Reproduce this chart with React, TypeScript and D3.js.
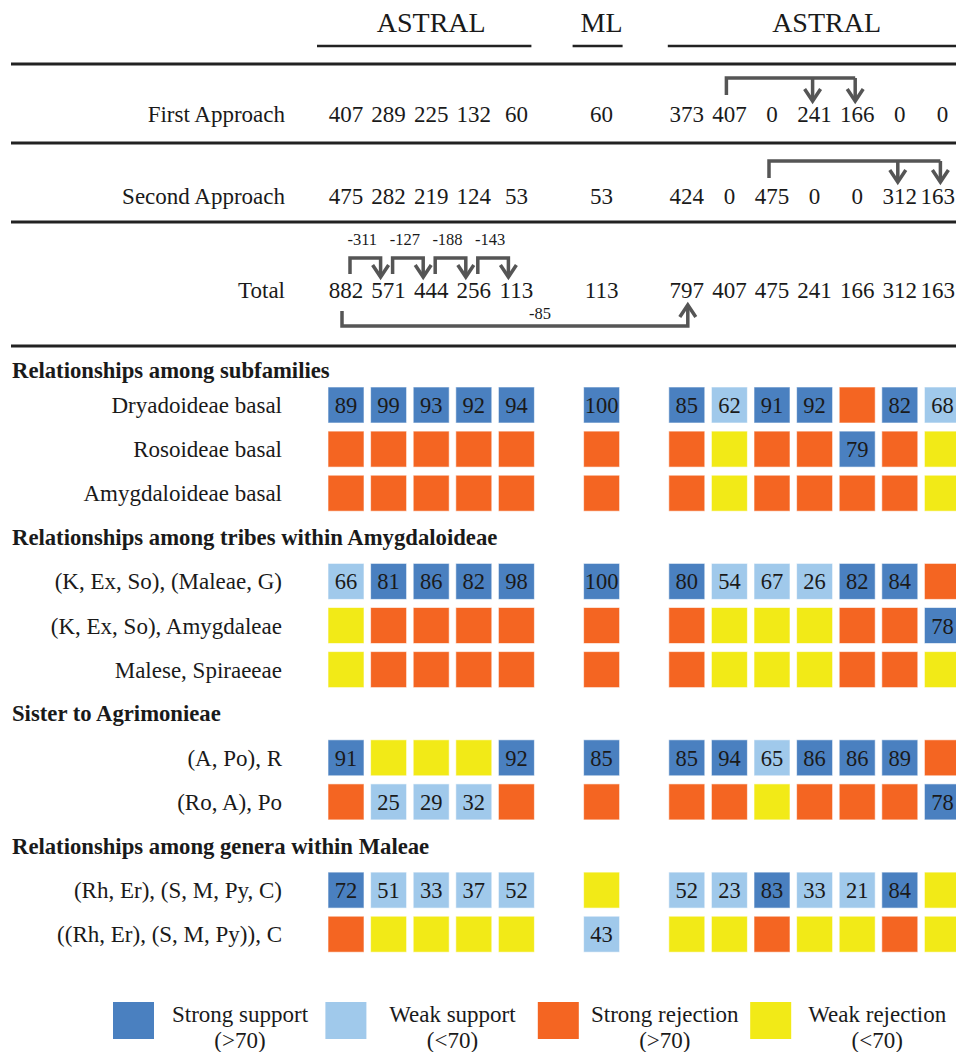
import React from "react";
import * as d3 from "d3";

// column layout: 5 ASTRAL, 1 ML, 7 ASTRAL (slot positions leave gaps between groups)
const colSlots = [0, 1, 2, 3, 4, 6, 8, 9, 10, 11, 12, 13, 14];
const groupLabels = [
  { label: "ASTRAL", from: 0, to: 4 },
  { label: "ML", from: 5, to: 5 },
  { label: "ASTRAL", from: 6, to: 12 },
];

const approachLabels = ["First Approach", "Second Approach", "Total"];
const firstApproach = [407, 289, 225, 132, 60, 60, 373, 407, 0, 241, 166, 0, 0];
const secondApproach = [475, 282, 219, 124, 53, 53, 424, 0, 475, 0, 0, 312, 163];
const totalGenes = [882, 571, 444, 256, 113, 113, 797, 407, 475, 241, 166, 312, 163];
const totalDiffs = [-311, -127, -188, -143];
const firstSplit = { from: 7, to: [9, 10] };
const secondSplit = { from: 8, to: [11, 12] };
const mlDiff = { from: 0, to: 6, value: -85 };

const sectionTitles = [
  "Relationships among subfamilies",
  "Relationships among tribes within Amygdaloideae",
  "Sister to Agrimonieae",
  "Relationships among genera within Maleae",
];
const rowLabels = [
  "Dryadoideae basal",
  "Rosoideae basal",
  "Amygdaloideae basal",
  "(K, Ex, So), (Maleae, G)",
  "(K, Ex, So), Amygdaleae",
  "Malese, Spiraeeae",
  "(A, Po), R",
  "(Ro, A), Po",
  "(Rh, Er), (S, M, Py, C)",
  "((Rh, Er), (S, M, Py)), C",
];
const rowSection = [0, 0, 0, 1, 1, 1, 2, 2, 3, 3];
// numbers = support value, "R" = strong rejection, "r" = weak rejection
const cellValues: (number | string)[][] = [
  [89, 99, 93, 92, 94, 100, 85, 62, 91, 92, "R", 82, 68],
  ["R", "R", "R", "R", "R", "R", "R", "r", "R", "R", 79, "R", "r"],
  ["R", "R", "R", "R", "R", "R", "R", "r", "R", "R", "R", "R", "r"],
  [66, 81, 86, 82, 98, 100, 80, 54, 67, 26, 82, 84, "R"],
  ["r", "R", "R", "R", "R", "R", "R", "r", "r", "r", "R", "R", 78],
  ["r", "R", "R", "R", "R", "R", "R", "r", "r", "r", "R", "R", "r"],
  [91, "r", "r", "r", 92, 85, 85, 94, 65, 86, 86, 89, "R"],
  ["R", 25, 29, 32, "R", "R", "R", "R", "r", "R", "R", "R", 78],
  [72, 51, 33, 37, 52, "r", 52, 23, 83, 33, 21, 84, "r"],
  ["R", "r", "r", "r", "r", 43, "r", "r", "R", "r", "r", "R", "r"],
];

const legendKeys = ["strongSupport", "weakSupport", "strongReject", "weakReject"];
const legendLabels = ["Strong support", "Weak support", "Strong rejection", "Weak rejection"];
const legendSub = ["(>70)", "(<70)", "(>70)", "(<70)"];

const colors = d3
  .scaleOrdinal<string, string>()
  .domain(legendKeys)
  .range(["#4a80c0", "#a0c9eb", "#f46522", "#f2ea17"]);

const cellKey = (v: number | string) =>
  v === "R" ? "strongReject" : v === "r" ? "weakReject" : +v > 70 ? "strongSupport" : "weakSupport";

const W = 956;
const H = 1052;
const FONT = "'Liberation Serif', 'Times New Roman', serif";
const INK = "#555";
const NUM_FS = 23;

export default function App() {
  const x = d3.scaleLinear().domain([0, 14]).range([346, 942.4]);
  const cx = (i: number) => x(colSlots[i]);
  const y = d3.scaleLinear().domain([0, 14]).range([405, 405 + 14 * 44.1]);
  const cell = 36;

  // keep numbers inside the right edge
  const numX = (i: number, v: number) => {
    const half = (String(v).length * 0.5 * NUM_FS) / 2;
    return Math.min(cx(i), W - 1 - half);
  };

  // assign vertical slots to section headers and rows
  const headerY: number[] = [];
  const rowY: number[] = [];
  let slot = 0;
  sectionTitles.forEach((_, s) => {
    if (s === 0) headerY.push(370);
    else headerY.push(y(slot++));
    rowSection.forEach((rs, r) => {
      if (rs === s) rowY[r] = y(slot++);
    });
  });

  const approachY = [114, 196, 290];
  const approachRows = [firstApproach, secondApproach, totalGenes];

  const arrowHead = (ax: number, tip: number, dir: 1 | -1) =>
    `M${ax - 8},${tip - dir * 12}L${ax},${tip}L${ax + 8},${tip - dir * 12}`;

  const split = (s: { from: number; to: number[] }, top: number, startBottom: number, tip: number) => {
    const sx = cx(s.from) - 3;
    const ends = s.to.map((t) => cx(t) - 2);
    const path = d3.path();
    path.moveTo(sx, startBottom);
    path.lineTo(sx, top);
    path.lineTo(d3.max(ends)!, top);
    ends.forEach((e) => {
      path.moveTo(e, top);
      path.lineTo(e, tip);
    });
    return (
      <g>
        <path d={path.toString()} fill="none" stroke={INK} strokeWidth={3.5} />
        {ends.map((e, i) => (
          <path key={i} d={arrowHead(e, tip, 1)} fill="none" stroke={INK} strokeWidth={3.5} />
        ))}
      </g>
    );
  };

  const mlLeft = cx(mlDiff.from) - 4;
  const mlRight = cx(mlDiff.to) + 1;

  return (
    <svg
      width={W}
      height={H}
      style={{ position: "absolute", left: 0, top: 0, background: "#fff" }}
      fontFamily={FONT}
      fill="#1a1a1a"
    >
      {/* group headers */}
      {groupLabels.map((g, i) => {
        const left = i === 2 ? cx(g.from) - 19 : cx(g.from) - 29;
        const right = i === 2 ? W : cx(g.to) + (i === 1 ? 21 : 15);
        const mid = i === 2 ? (cx(g.from) + cx(g.to)) / 2 + 12 : (cx(g.from) + cx(g.to)) / 2;
        return (
          <g key={i}>
            <text x={mid} y={32} textAnchor="middle" fontSize={28}>
              {g.label}
            </text>
            <line x1={left} x2={right} y1={46} y2={46} stroke="#222" strokeWidth={2.5} />
          </g>
        );
      })}

      {/* rules */}
      {[64, 143, 222, 346].map((ry) => (
        <line key={ry} x1={11} x2={W} y1={ry} y2={ry} stroke="#222" strokeWidth={3} />
      ))}

      {/* gene counts */}
      {approachRows.map((vals, r) => (
        <g key={r}>
          <text x={285} y={approachY[r] + 7.5} textAnchor="end" fontSize={23}>
            {approachLabels[r]}
          </text>
          {vals.map((v, i) => (
            <text key={i} x={numX(i, v)} y={approachY[r] + 8} textAnchor="middle" fontSize={NUM_FS}>
              {v}
            </text>
          ))}
        </g>
      ))}

      {split(firstSplit, 78, 95, 101)}
      {split(secondSplit, 161, 178, 182)}

      {/* total diffs */}
      {totalDiffs.map((d, i) => {
        const sx = cx(i) + 4;
        const ex = cx(i + 1) - 8;
        return (
          <g key={i}>
            <path
              d={`M${sx},${274}V${258}H${ex}V${277}`}
              fill="none"
              stroke={INK}
              strokeWidth={3.5}
            />
            <path d={arrowHead(ex, 277, 1)} fill="none" stroke={INK} strokeWidth={3.5} />
            <text x={(sx + ex) / 2 - 3} y={245} textAnchor="middle" fontSize={16.5}>
              {d}
            </text>
          </g>
        );
      })}
      <path
        d={`M${mlLeft},${311}V${326}H${mlRight}V${305}`}
        fill="none"
        stroke={INK}
        strokeWidth={3.5}
      />
      <path d={arrowHead(mlRight, 305, -1)} fill="none" stroke={INK} strokeWidth={3.5} />
      <text x={540} y={319} textAnchor="middle" fontSize={16.5}>
        {mlDiff.value}
      </text>

      {/* section headers */}
      {sectionTitles.map((t, s) => (
        <text key={s} x={12} y={headerY[s] + 7.5} fontSize={22.7} fontWeight="bold">
          {t}
        </text>
      ))}

      {/* heatmap rows */}
      {cellValues.map((row, r) => (
        <g key={r}>
          <text x={282} y={rowY[r] + 8} textAnchor="end" fontSize={23}>
            {rowLabels[r]}
          </text>
          {row.map((v, i) => (
            <g key={i}>
              <rect
                x={cx(i) - cell / 2}
                y={rowY[r] - cell / 2}
                width={cell}
                height={cell}
                fill={colors(cellKey(v))}
                stroke="#fff"
                strokeOpacity={0.6}
                strokeWidth={1}
              />
              {typeof v === "number" && (
                <text x={cx(i)} y={rowY[r] + 8} textAnchor="middle" fontSize={22.5}>
                  {v}
                </text>
              )}
            </g>
          ))}
        </g>
      ))}

      {/* legend */}
      {legendKeys.map((k, i) => {
        const bx = 113 + i * 212.4;
        const tx = bx + 127;
        return (
          <g key={k}>
            <rect x={bx} y={1002} width={41} height={37} fill={colors(k)} />
            <text x={tx} y={1022} textAnchor="middle" fontSize={23}>
              {legendLabels[i]}
            </text>
            <text x={tx} y={1048} textAnchor="middle" fontSize={23}>
              {legendSub[i]}
            </text>
          </g>
        );
      })}
    </svg>
  );
}
